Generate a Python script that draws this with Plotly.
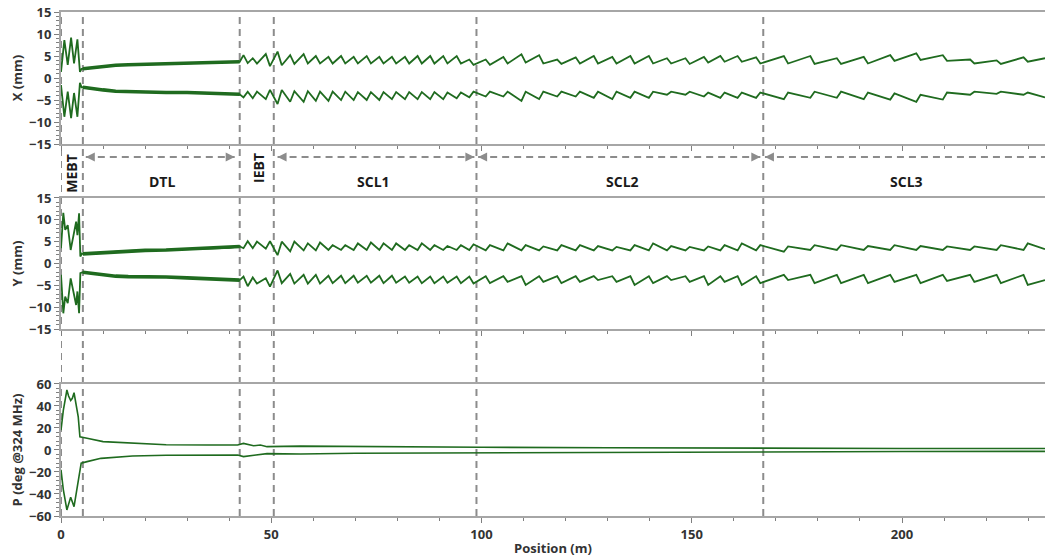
import plotly.graph_objects as go

# ---------------- data ----------------
SECTION_LINES = [0.0, 5.2, 42.5, 50.6, 98.8, 167.0]
POSITION_MAX = 234.0

# MEBT (explicit envelope vertices)
MEBT_X_POS = [0.0, 0.8, 1.6, 2.4, 3.1, 3.9, 4.5, 4.9]
MEBT_X_UP = [1.4, 8.6, 3.0, 9.2, 3.3, 8.8, 1.4, 2.1]
MEBT_X_LO = [-1.6, -8.8, -3.1, -9.1, -3.4, -8.8, -1.1, -2.1]

MEBT_Y_POS = [0.0, 0.55, 1.0, 1.6, 2.3, 3.1, 3.6, 3.9, 4.3, 4.6, 5.0]
MEBT_Y_UP = [3.5, 11.6, 7.7, 8.8, 3.1, 7.7, 9.6, 6.5, 11.5, 1.6, 2.3]
MEBT_Y_LO = [-2.6, -11.4, -7.6, -9.1, -3.4, -7.6, -9.5, -6.4, -11.4, -2.2, -2.0]

# DTL (slowly growing, fuzzy envelope)
DTL_POS = [5.2, 7.0, 10.0, 13.0, 16.0, 20.0, 25.0, 30.0, 35.0, 40.0, 42.5]
DTL_X_UP = [2.1, 2.3, 2.6, 2.9, 3.0, 3.1, 3.2, 3.3, 3.5, 3.6, 3.7]
DTL_X_LO = [-2.1, -2.4, -2.7, -3.0, -3.1, -3.2, -3.3, -3.3, -3.4, -3.6, -3.7]
DTL_Y_UP = [2.2, 2.3, 2.5, 2.8, 2.9, 3.0, 3.1, 3.3, 3.4, 3.6, 3.9]
DTL_Y_LO = [-2.0, -2.2, -2.6, -2.9, -3.0, -3.0, -3.1, -3.3, -3.5, -3.6, -3.8]

# Focusing-element positions in IEBT, SCL1, SCL2, SCL3 (m)
IEBT_POS = [43.9, 46.1, 49.2]
SCL1_POS = [52.0, 55.0, 58.2, 61.1, 64.1, 67.1, 70.1, 73.2, 76.2, 79.2,
            82.3, 85.3, 88.3, 91.4, 94.6, 97.6]
SCL2_POS = [101.5, 105.7, 110.0, 114.2, 118.5, 122.9, 127.2, 131.6, 135.9,
            140.3, 144.6, 149.0, 153.4, 157.3, 161.4, 165.8]
SCL3_POS = [172.4, 178.7, 185.0, 191.4, 197.7, 203.9, 210.2, 216.7, 223.0, 229.4]

# X envelope, upper: value at cusp (peak) and just after it (low)
X_UP_PEAK = ([5.2, 4.5, 5.45] +
             [6.0, 5.2, 5.45, 5.0, 4.8, 5.0, 4.8, 5.0, 4.8, 4.8, 4.8, 5.0, 5.0, 5.0, 5.0, 4.2] +
             [4.2, 4.8, 5.4, 5.2, 4.2, 4.7, 5.0, 4.8, 5.0, 5.0, 4.5, 4.5, 4.8, 5.0, 5.0, 4.7] +
             [5.0, 5.0, 4.5, 4.8, 5.2, 5.6, 5.2, 4.2, 4.0, 4.7])
X_UP_LOW = ([3.4, 3.3, 2.7] +
            [2.9, 3.2, 3.3, 3.3, 3.3, 3.3, 3.3, 3.3, 3.3, 3.3, 3.3, 3.3, 3.3, 3.3, 3.3, 3.0] +
            [3.0, 3.3, 3.5, 3.3, 3.2, 3.3, 3.3, 3.3, 3.3, 3.3, 3.3, 3.2, 3.5, 3.7, 3.7, 3.3] +
            [3.3, 3.2, 3.2, 3.3, 3.9, 4.1, 3.9, 3.3, 3.2, 3.7])
X_UP_END = 4.5

# X envelope, lower: minimum at cusp and value just after it
X_LO_MIN = ([-4.4, -4.6, -4.8] +
            [-5.9, -5.4, -5.4, -5.2, -5.2, -5.0, -5.0, -5.0, -5.0, -4.8, -4.8, -4.8, -4.8, -4.8, -4.6, -4.4] +
            [-4.2, -4.2, -5.2, -4.8, -4.2, -4.2, -4.5, -4.8, -4.5, -4.5, -3.8, -3.8, -4.2, -4.5, -4.5, -4.5] +
            [-4.8, -4.5, -4.5, -4.8, -4.9, -5.4, -4.9, -3.8, -3.6, -3.8])
X_LO_HIGH = ([-3.1, -3.1, -2.7] +
             [-2.7, -3.0, -3.0, -3.1, -3.1, -3.1, -3.2, -3.2, -3.2, -3.2, -3.2, -3.2, -3.2, -3.3, -3.3, -3.1] +
             [-3.1, -3.1, -3.1, -3.1, -3.1, -3.1, -3.1, -3.1, -3.1, -3.1, -3.1, -3.1, -3.3, -3.3, -3.3, -3.3] +
             [-3.3, -3.1, -3.1, -3.3, -3.5, -3.8, -3.3, -3.1, -3.1, -3.3])
X_LO_END = -4.4

# Y envelope, upper: value just before cusp (low) and at cusp (peak)
Y_UP_LOW = ([3.5, 3.5, 3.4] +
            [1.9, 2.8, 3.0, 3.0, 3.1, 3.1, 3.1, 3.1, 3.1, 3.1, 3.1, 3.1, 3.1, 3.1, 3.1, 3.1] +
            [3.0, 3.0, 3.0, 3.0, 3.0, 3.0, 3.0, 3.0, 3.0, 3.0, 3.0, 3.0, 3.0, 3.0, 3.0, 3.0] +
            [2.7, 3.1, 3.1, 3.1, 3.1, 3.1, 3.1, 3.1, 3.1, 3.1])
Y_UP_PEAK = ([5.1, 5.0, 5.1] +
             [5.0, 5.0, 4.6, 4.8, 4.2, 4.2, 4.6, 4.8, 4.6, 4.6, 4.2, 4.6, 4.2, 4.0, 4.2, 4.4] +
             [4.2, 4.6, 4.2, 3.9, 4.2, 4.2, 4.0, 3.8, 4.2, 4.6, 4.0, 3.8, 3.9, 4.2, 4.6, 4.2] +
             [3.9, 4.2, 4.2, 4.0, 4.2, 4.0, 3.9, 3.9, 4.2, 4.6])
Y_UP_END = 3.3

# Y envelope, lower: value just before cusp (high) and at cusp (minimum)
Y_LO_HIGH = ([-3.0, -3.2, -3.4] +
             [-1.6, -2.4, -2.6, -2.6, -2.8, -2.8, -2.8, -2.8, -2.8, -2.8, -3.0, -3.0, -3.0, -3.0, -3.0, -3.0] +
             [-2.9, -2.9, -2.9, -2.9, -2.9, -2.9, -2.9, -2.9, -2.9, -2.9, -2.9, -2.9, -2.9, -2.9, -2.9, -2.9] +
             [-2.6, -2.6, -2.6, -2.6, -2.6, -2.6, -2.6, -2.6, -2.6, -2.6])
Y_LO_MIN = ([-5.2, -4.6, -5.3] +
            [-4.5, -4.6, -4.6, -4.6, -4.5, -4.5, -4.4, -4.4, -4.5, -4.4, -4.4, -4.5, -4.5, -4.4, -4.5, -4.6] +
            [-4.5, -4.2, -4.9, -4.2, -4.5, -4.2, -3.8, -4.2, -4.9, -4.5, -3.8, -4.2, -4.9, -4.2, -4.9, -4.5] +
            [-3.8, -4.5, -4.5, -4.5, -4.2, -4.5, -4.0, -4.2, -4.5, -4.9])
Y_LO_END = -3.8

# Phase envelope (deg @324 MHz)
P_UP_POS = [0.0, 0.55, 1.4, 1.8, 2.3, 2.7, 3.1, 3.5, 4.1, 4.5, 5.0, 6.2, 10.0, 17.0, 25.0,
            35.0, 42.0, 43.4, 45.8, 47.4, 49.0, 57.0, 70.0, 100.0, 130.0, 167.0, 200.0, 234.0]
P_UP = [18, 36, 54.5, 49, 45, 47, 52, 42, 30, 12, 11.5, 10.6, 7.6, 6.0, 4.8,
        4.5, 4.5, 6.0, 3.8, 4.5, 3.0, 3.5, 3.0, 2.5, 2.0, 1.5, 1.4, 1.3]
P_LO_POS = [0.0, 0.55, 1.4, 2.3, 3.1, 3.7, 4.8, 6.2, 9.5, 17.0, 25.0, 42.0, 43.4, 49.0,
            57.0, 70.0, 100.0, 130.0, 167.0, 200.0, 234.0]
P_LO = [-18, -36, -54.5, -43, -51.5, -37, -12, -10.6, -7.6, -5.5, -4.8, -4.5, -6.0, -3.3,
        -3.6, -3.0, -2.5, -2.0, -1.5, -1.4, -1.3]

SECTION_NAMES = ["DTL", "SCL1", "SCL2", "SCL3"]
SECTION_LABEL_POS = [24.0, 74.3, 133.5, 201.0]
ROTATED_NAMES = ["MEBT", "IEBT"]
ROTATED_POS = [2.6, 47.0]
ARROW_SPANS = [(5.9, 41.3, True), (51.5, 98.3, True), (99.2, 166.3, True), (167.4, 234.0, False)]

# ---------------- styling ----------------
GREEN = "#1f6b1f"
AXIS_GRAY = "#a6a6a6"
DASH_GRAY = "#8c8c8c"
TEXT = "#333333"
FONT = "Open Sans"
QUAD_POS = IEBT_POS + SCL1_POS + SCL2_POS + SCL3_POS
HALF = 0.5


def envelope(pre_pos, pre_val, dtl_val, first, second, end_val):
    xs = list(pre_pos) + list(DTL_POS)
    ys = list(pre_val) + list(dtl_val)
    for p, a, b in zip(QUAD_POS, first, second):
        xs += [p - HALF, p + HALF]
        ys += [a, b]
    xs.append(POSITION_MAX)
    ys.append(end_val)
    return xs, ys


fig = go.Figure()

curves = [
    ("x", "y", envelope(MEBT_X_POS, MEBT_X_UP, DTL_X_UP, X_UP_PEAK, X_UP_LOW, X_UP_END), DTL_X_UP),
    ("x", "y", envelope(MEBT_X_POS, MEBT_X_LO, DTL_X_LO, X_LO_MIN, X_LO_HIGH, X_LO_END), DTL_X_LO),
    ("x2", "y2", envelope(MEBT_Y_POS, MEBT_Y_UP, DTL_Y_UP, Y_UP_LOW, Y_UP_PEAK, Y_UP_END), DTL_Y_UP),
    ("x2", "y2", envelope(MEBT_Y_POS, MEBT_Y_LO, DTL_Y_LO, Y_LO_HIGH, Y_LO_MIN, Y_LO_END), DTL_Y_LO),
]
for xa, ya, (xs, ys), dtl in curves:
    fig.add_trace(go.Scatter(x=xs, y=ys, mode="lines", xaxis=xa, yaxis=ya,
                             line=dict(color=GREEN, width=1.8), showlegend=False,
                             hoverinfo="skip"))
    fig.add_trace(go.Scatter(x=DTL_POS, y=dtl, mode="lines", xaxis=xa, yaxis=ya,
                             line=dict(color=GREEN, width=3.6), showlegend=False,
                             hoverinfo="skip"))

for px, py in [(P_UP_POS, P_UP), (P_LO_POS, P_LO)]:
    fig.add_trace(go.Scatter(x=px, y=py, mode="lines", xaxis="x3", yaxis="y3",
                             line=dict(color=GREEN, width=1.6), showlegend=False,
                             hoverinfo="skip"))

tickfont = dict(family=FONT, size=13, color=TEXT, weight="bold")
titlefont = dict(family=FONT, size=13, color=TEXT, weight="bold")

xcommon = dict(range=[0, POSITION_MAX], dtick=50, tick0=0, ticks="outside", ticklen=5,
               tickwidth=1, tickcolor="#7f7f7f", showline=True, linecolor=AXIS_GRAY,
               linewidth=2, mirror=True, showgrid=False, zeroline=False, automargin=False,
               minor=dict(dtick=10, ticks="outside", ticklen=3, tickcolor="#7f7f7f"),
               tickfont=tickfont)
ycommon = dict(ticks="outside", ticklen=5, tickwidth=1, tickcolor="#7f7f7f",
               showline=True, linecolor=AXIS_GRAY, linewidth=2, showgrid=False,
               zeroline=False, automargin=False, tickfont=tickfont)

fig.update_layout(
    width=1045, height=557,
    margin=dict(l=61, r=0, t=12, b=41, autoexpand=False),
    paper_bgcolor="white", plot_bgcolor="rgba(0,0,0,0)",
    xaxis=dict(xcommon, anchor="y", showticklabels=False),
    xaxis2=dict(xcommon, anchor="y2", showticklabels=False, matches="x"),
    xaxis3=dict(xcommon, anchor="y3", matches="x",
                title=dict(text="Position (m)", font=titlefont, standoff=2)),
    yaxis=dict(ycommon, domain=[0.738, 1.0], range=[-15, 15], dtick=5,
               minor=dict(dtick=1, ticks="outside", ticklen=3, tickcolor="#7f7f7f"),
               title=dict(text="X (mm)", font=titlefont, standoff=4)),
    yaxis2=dict(ycommon, domain=[0.371, 0.631], range=[-15, 15], dtick=5,
                minor=dict(dtick=1, ticks="outside", ticklen=3, tickcolor="#7f7f7f"),
                title=dict(text="Y (mm)", font=titlefont, standoff=4)),
    yaxis3=dict(ycommon, domain=[0.0, 0.262], range=[-60, 60], dtick=20,
                minor=dict(dtick=4, ticks="outside", ticklen=3, tickcolor="#7f7f7f"),
                title=dict(text="P (deg @324 MHz)", font=titlefont, standoff=4)),
    hovermode=False,
)

shapes = []
for xv in SECTION_LINES:
    shapes.append(dict(type="line", xref="x3", yref="paper", x0=xv, x1=xv, y0=0, y1=1,
                       layer="below", line=dict(color=DASH_GRAY, width=2, dash="7px,5px")))

ARROW_Y = 0.7123
for x0, x1, right_head in ARROW_SPANS:
    shapes.append(dict(type="line", xref="x3", yref="paper", x0=x0, x1=x1,
                       y0=ARROW_Y, y1=ARROW_Y,
                       line=dict(color=DASH_GRAY, width=2, dash="7px,5px")))
    shapes.append(dict(type="path", xref="x3", yref="paper", xsizemode="pixel",
                       ysizemode="pixel", xanchor=x0, yanchor=ARROW_Y,
                       path="M0,0 L9,4.5 L9,-4.5 Z", fillcolor=DASH_GRAY,
                       line=dict(width=0)))
    if right_head:
        shapes.append(dict(type="path", xref="x3", yref="paper", xsizemode="pixel",
                           ysizemode="pixel", xanchor=x1, yanchor=ARROW_Y,
                           path="M0,0 L-9,4.5 L-9,-4.5 Z", fillcolor=DASH_GRAY,
                           line=dict(width=0)))
fig.update_layout(shapes=shapes)

labelfont = dict(family=FONT, size=14, color="#1a1a1a", weight="bold")
annotations = []
for name, xv in zip(SECTION_NAMES, SECTION_LABEL_POS):
    annotations.append(dict(x=xv, y=0.6627, xref="x3", yref="paper", text=name,
                            showarrow=False, font=labelfont))
for name, xv in zip(ROTATED_NAMES, ROTATED_POS):
    annotations.append(dict(x=xv, y=0.7235, xref="x3", yref="paper", text=name,
                            showarrow=False, font=labelfont, textangle=-90))
fig.update_layout(annotations=annotations)

fig.write_html("out.html", config={"displayModeBar": False},
               post_script="document.body.style.margin='0px';document.body.style.overflow='hidden';")
